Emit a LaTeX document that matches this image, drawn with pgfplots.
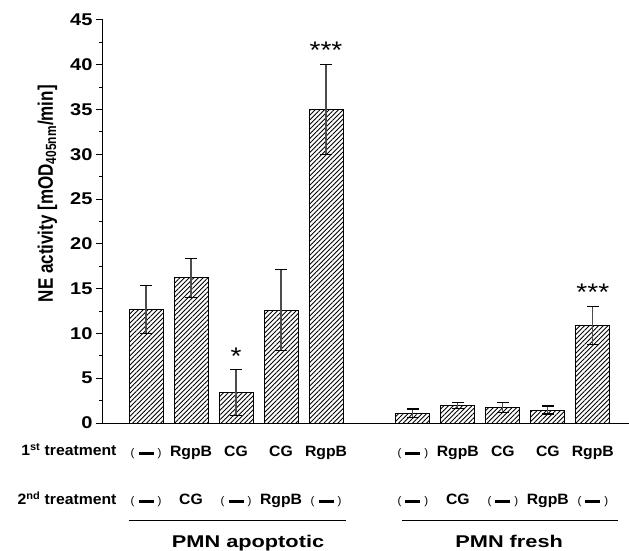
\documentclass[border=0pt]{standalone}
\usepackage{fontspec}
\setmainfont{Liberation Sans}
\newfontfamily\tickf{Liberation Sans}[FakeStretch=1.18]
\newfontfamily\ylabf{Liberation Sans}[FakeStretch=0.81]
\newfontfamily\grpf{Liberation Sans}[FakeStretch=1.28]
\newfontfamily\rowf{Liberation Sans}[FakeStretch=1.05]
\newfontfamily\starf{Liberation Sans}[FakeStretch=1.17]
\usepackage{pgfplots}
\pgfplotsset{compat=1.18}
\usetikzlibrary{patterns.meta}
\newcommand\dsh{{\mdseries\fontsize{11}{11}\selectfont(}\hspace{4pt}\rule[2pt]{15pt}{3pt}\hspace{4pt}{\mdseries\fontsize{11}{11}\selectfont)}}
\begin{document}
\begin{tikzpicture}
\useasboundingbox (-103pt,-128pt) rectangle (526pt,423pt);
\begin{axis}[
  at={(0,0)}, anchor=south west,
  scale only axis, width=526pt, height=403pt,
  xmin=-0.956, xmax=10.733, ymin=0, ymax=45,
  axis x line=bottom, axis y line=left,
  axis line style={-, line width=1pt, black},
  ytick={0,5,...,45}, minor y tick num=1,
  tick align=outside, major tick length=7pt, minor tick length=4pt,
  ytick style={line width=1pt, black},
  xtick={0,1,2,3,4,5.93,6.93,7.93,8.93,9.93},
  xticklabels={\dsh,RgpB,CG,CG,RgpB,\dsh,RgpB,CG,CG,RgpB},
  extra x ticks={0,1,2,3,4,5.93,6.93,7.93,8.93,9.93},
  extra x tick labels={\dsh,CG,\dsh,RgpB,\dsh,\dsh,CG,\dsh,RgpB,\dsh},
  xtick style={draw=none},
  xticklabel style={font=\rowf\bfseries\fontsize{15}{15}\selectfont, anchor=base, yshift=-26.7pt},
  extra x tick style={xticklabel style={yshift=-48.2pt}},
  yticklabel style={font=\tickf\bfseries\fontsize{17}{17}\selectfont},
  /pgf/number format/assume math mode=true,
  ylabel={NE activity [mOD\textsubscript{405nm}/min]},
  ylabel style={font=\ylabf\bfseries\fontsize{21}{21}\selectfont, at={(axis description cs:-0.0951,0.569)}, anchor=base},
  clip=false,
]
\addplot[ybar, bar width=34pt, draw=black, line width=1pt,
  pattern={Lines[angle=45,distance=3.3pt,line width=0.9pt]},
  error bars/.cd, y dir=both, y explicit,
  error bar style={line width=1.2pt, black!70},
  error mark options={black, line width=1.1pt, mark size=6pt, rotate=90}]
coordinates {
  (0,12.7) +- (0,2.7)
  (1,16.2) +- (0,2.2)
  (2,3.4) +- (0,2.6)
  (3,12.6) +- (0,4.55)
  (4,35.0) +- (0,5.0)
  (5.93,1.08) +- (0,0.48)
  (6.93,1.93) +- (0,0.35)
  (7.93,1.75) +- (0,0.55)
  (8.93,1.45) +- (0,0.45)
  (9.93,10.9) +- (0,2.1)
};
\node[font=\starf\fontsize{24}{24}\selectfont] at (axis cs:2,7.5) {*};
\node[font=\starf\fontsize{24}{24}\selectfont] at (axis cs:4,41.6) {***};
\node[font=\starf\fontsize{24}{24}\selectfont] at (axis cs:9.93,14.65) {***};
\node[font=\rowf\bfseries\fontsize{15}{15}\selectfont, anchor=base east] at (axis cs:-0.578,-3.65) {1\textsuperscript{st} treatment};
\node[font=\rowf\bfseries\fontsize{15}{15}\selectfont, anchor=base east] at (axis cs:-0.578,-9.08) {2\textsuperscript{nd} treatment};
\draw[line width=1pt] (axis cs:-0.378,-10.94) -- (axis cs:4.444,-10.94);
\draw[line width=1pt] (axis cs:5.689,-10.94) -- (axis cs:10.489,-10.94);
\node[font=\grpf\bfseries\fontsize{17}{17}\selectfont, anchor=base] at (axis cs:2.267,-13.93) {PMN apoptotic};
\node[font=\grpf\bfseries\fontsize{17}{17}\selectfont, anchor=base] at (axis cs:8.07,-13.93) {PMN fresh};
\end{axis}
\end{tikzpicture}
\end{document}
